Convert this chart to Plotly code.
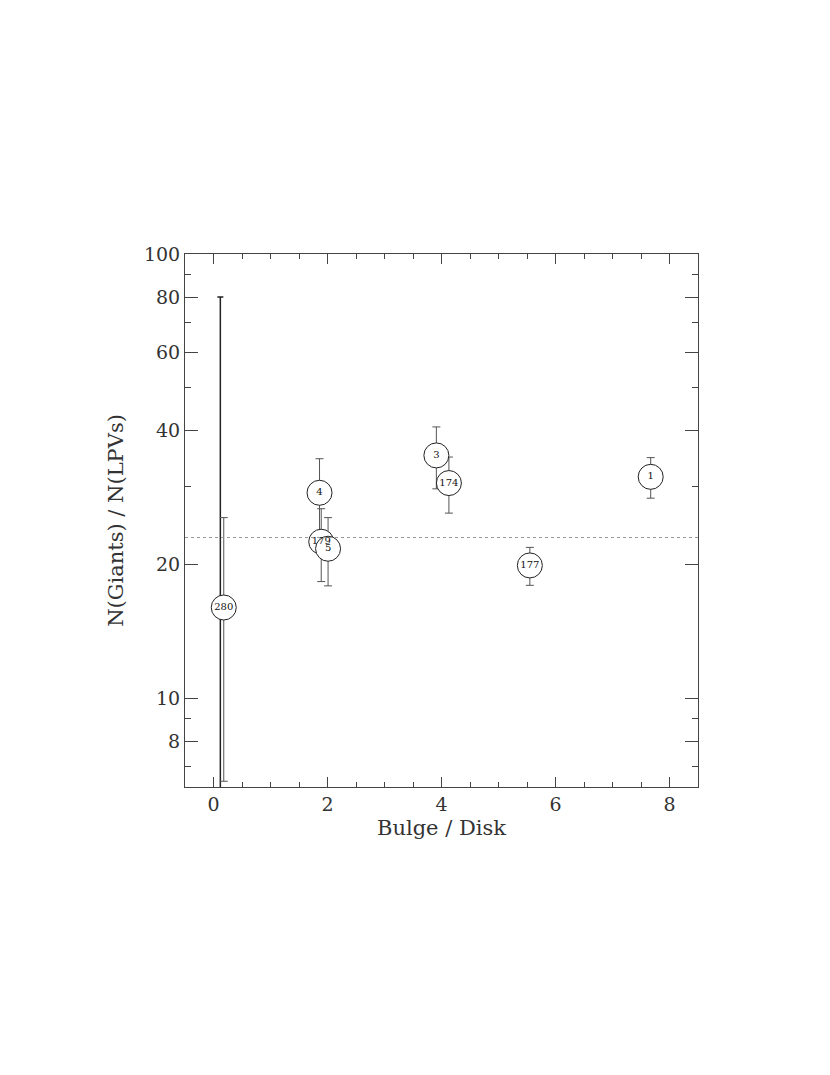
import plotly.graph_objects as go

# --- data ---
labels = ["280", "4", "179", "5", "3", "174", "177", "1"]
bulge_disk = [0.18, 1.86, 1.89, 2.01, 3.91, 4.13, 5.55, 7.67]
ratio = [16.0, 29.0, 22.5, 21.7, 35.2, 30.5, 19.9, 31.5]
ratio_err = [9.5, 5.6, 4.2, 3.8, 5.6, 4.4, 1.95, 3.3]

# hidden point under "280" with a huge error bar
extra_bd = [0.12]
extra_ratio = [16.0]
extra_err = [64.0]

mean_ratio = 23.0

x_ticks = [0, 2, 4, 6, 8]
y_ticks = [8, 10, 20, 40, 60, 80, 100]
y_minor = [7, 9, 30, 50, 70, 90]

FONT = "DejaVu Serif"
AX = "#444444"
TXT = "#333333"

fig = go.Figure()

fig.add_trace(go.Scatter(
    x=extra_bd, y=extra_ratio, mode="markers",
    marker=dict(size=0.1, color="rgba(0,0,0,0)"),
    error_y=dict(type="data", array=extra_err, arrayminus=extra_err,
                 color="#222222", thickness=1.5, width=3),
    showlegend=False, hoverinfo="skip",
))

fig.add_trace(go.Scatter(
    x=bulge_disk, y=ratio, mode="markers+text",
    text=labels, textposition="middle center",
    textfont=dict(family=FONT, size=10, color="#111111"),
    marker=dict(symbol="circle", size=25, color="white",
                line=dict(color="#222222", width=1)),
    error_y=dict(type="data", array=ratio_err, color="#555555",
                 thickness=1, width=4),
    showlegend=False,
))

fig.add_hline(y=mean_ratio, line=dict(color="#999999", width=1, dash="dot"))

fig.update_layout(
    width=830, height=1075,
    paper_bgcolor="white", plot_bgcolor="white",
    margin=dict(l=177, r=140, t=246, b=296),
    font=dict(family=FONT, color=TXT, size=19),
)

fig.update_xaxes(
    range=[-0.5, 8.5], showgrid=False, zeroline=False,
    showline=True, linecolor=AX, linewidth=1, mirror="ticks",
    ticks="inside", ticklen=10, tickcolor=AX, tickwidth=1,
    tickvals=x_ticks, ticktext=[str(v) for v in x_ticks],
    tickfont=dict(family=FONT, size=19, color=TXT),
    minor=dict(ticks="inside", dtick=0.5, ticklen=5, tickcolor=AX, tickwidth=1),
    title=dict(text="Bulge / Disk", font=dict(family=FONT, size=21, color=TXT), standoff=6),
)

fig.update_yaxes(
    type="log", range=[0.8, 2.0], showgrid=False, zeroline=False,
    showline=True, linecolor=AX, linewidth=1, mirror="ticks",
    ticks="inside", ticklen=13, tickcolor=AX, tickwidth=1,
    tickvals=y_ticks, ticktext=[str(v) for v in y_ticks],
    tickfont=dict(family=FONT, size=19, color=TXT),
    minor=dict(ticks="inside", tickvals=y_minor, ticklen=6, tickcolor=AX, tickwidth=1),
    title=dict(text="N(Giants) / N(LPVs)", font=dict(family=FONT, size=21, color=TXT), standoff=14),
)

fig.write_html("out.html")
